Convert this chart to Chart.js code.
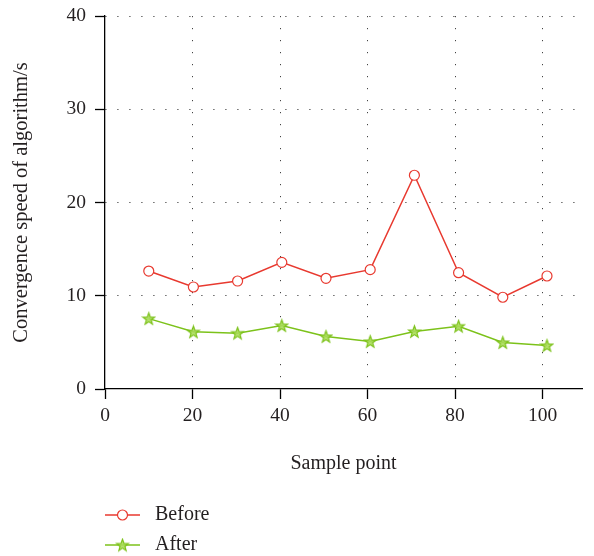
<!DOCTYPE html>
<html>
<head>
<meta charset="utf-8">
<script src="https://cdn.jsdelivr.net/npm/chart.js@4/dist/chart.umd.min.js"></script>
<style>
  html, body { margin: 0; padding: 0; background: #fff; }
  #wrap { width: 594px; height: 556px; }
</style>
</head>
<body>
<div id="wrap"><canvas id="c" width="594" height="556"></canvas></div>
<script>
const samplePoints = [10, 20.2, 30.3, 40.4, 50.5, 60.6, 70.7, 80.8, 90.9, 101];
const beforeValues = [12.65, 10.94, 11.58, 13.58, 11.87, 12.8, 22.92, 12.47, 9.84, 12.12];
const afterValues  = [7.55, 6.13, 5.99, 6.8, 5.63, 5.09, 6.16, 6.73, 4.98, 4.66];
const seriesNames = ['Before', 'After'];
const xTitle = 'Sample point';
const yTitle = 'Convergence speed of algorithm/s';

const RED = '#e8392f';
const GREEN = '#7cc21a';
const FONT = '"Liberation Serif", "Times New Roman", serif';
const TEXT = '#231f20';

function makeStar(size, stroke, fill) {
  const c = document.createElement('canvas');
  c.width = size; c.height = size;
  const ctx = c.getContext('2d');
  const cx = size / 2, cy = size / 2 + 0.5;
  const R = size / 2 - 1.3, r = R * 0.42;
  ctx.beginPath();
  for (let i = 0; i < 10; i++) {
    const rad = i % 2 === 0 ? R : r;
    const a = -Math.PI / 2 + i * Math.PI / 5;
    const px = cx + rad * Math.cos(a), py = cy + rad * Math.sin(a);
    if (i === 0) ctx.moveTo(px, py); else ctx.lineTo(px, py);
  }
  ctx.closePath();
  ctx.fillStyle = fill;
  ctx.fill();
  ctx.lineWidth = 1.2;
  ctx.strokeStyle = stroke;
  ctx.stroke();
  return c;
}
const starImg = makeStar(15, GREEN, 'rgba(170,220,90,0.9)');

const toXY = (xs, ys) => xs.map((x, i) => ({x: x, y: ys[i]}));

const legendPlugin = {
  id: 'customLegend',
  afterDraw(chart) {
    const ctx = chart.ctx;
    const left = chart.chartArea.left;
    const rows = [chart.height - 41, chart.height - 11];
    chart.data.datasets.forEach((ds, i) => {
      const y = rows[i];
      ctx.save();
      ctx.strokeStyle = ds.borderColor;
      ctx.lineWidth = 1.5;
      ctx.beginPath();
      ctx.moveTo(left, y);
      ctx.lineTo(left + 35, y);
      ctx.stroke();
      const mx = left + 17.5;
      if (i === 0) {
        ctx.beginPath();
        ctx.arc(mx, y, 5, 0, Math.PI * 2);
        ctx.fillStyle = '#fff';
        ctx.fill();
        ctx.lineWidth = 1.2;
        ctx.strokeStyle = ds.borderColor;
        ctx.stroke();
      } else {
        ctx.drawImage(starImg, mx - starImg.width / 2, y - starImg.height / 2);
      }
      ctx.fillStyle = TEXT;
      ctx.font = '20px ' + FONT;
      ctx.textBaseline = 'middle';
      ctx.textAlign = 'left';
      ctx.fillText(ds.label, left + 50, y);
      ctx.restore();
    });
  }
};

new Chart(document.getElementById('c'), {
  type: 'line',
  data: {
    datasets: [
      {
        label: seriesNames[0],
        data: toXY(samplePoints, beforeValues),
        borderColor: RED,
        backgroundColor: '#fff',
        borderWidth: 1.5,
        pointStyle: 'circle',
        pointRadius: 5,
        pointBorderWidth: 1.2,
        pointBackgroundColor: '#fff',
        pointBorderColor: RED,
        tension: 0
      },
      {
        label: seriesNames[1],
        data: toXY(samplePoints, afterValues),
        borderColor: GREEN,
        backgroundColor: GREEN,
        borderWidth: 1.5,
        pointStyle: starImg,
        pointRadius: 7,
        tension: 0
      }
    ]
  },
  options: {
    responsive: false,
    animation: false,
    devicePixelRatio: 1,
    layout: { padding: { left: 0, right: 12, top: 16, bottom: 80 } },
    plugins: {
      legend: { display: false },
      tooltip: { enabled: false }
    },
    scales: {
      x: {
        type: 'linear',
        min: 0,
        max: 109,
        ticks: {
          stepSize: 20,
          includeBounds: false,
          color: TEXT,
          font: { family: FONT, size: 19.5 },
          padding: 5,
          maxRotation: 0
        },
        grid: {
          color: (c) => (c.tick && c.tick.value === 0) ? 'rgba(0,0,0,0)' : '#444',
          lineWidth: 1,
          tickColor: '#000',
          tickLength: 10,
          tickWidth: 1.3,
          tickBorderDash: []
        },
        border: { display: true, color: '#000', width: 1.3, dash: [1.2, 10.8] },
        title: {
          display: true,
          text: xTitle,
          color: TEXT,
          font: { family: FONT, size: 20 },
          padding: { top: 0, bottom: 0 }
        },
        afterFit(scale) { scale.height = 87; scale.paddingLeft = 0; scale.paddingRight = 0; }
      },
      y: {
        type: 'linear',
        min: 0,
        max: 40,
        ticks: {
          stepSize: 10,
          color: TEXT,
          font: { family: FONT, size: 19.5 },
          padding: 9
        },
        grid: {
          color: (c) => (c.tick && c.tick.value === 0) ? 'rgba(0,0,0,0)' : '#444',
          lineWidth: 1,
          tickColor: '#000',
          tickLength: 10,
          tickWidth: 1.3,
          tickBorderDash: []
        },
        border: { display: true, color: '#000', width: 1.3, dash: [1.2, 10.8] },
        title: {
          display: true,
          text: yTitle,
          color: TEXT,
          font: { family: FONT, size: 20.5 },
          padding: { top: 9, bottom: 0 }
        },
        afterFit(scale) { scale.width = 105; scale.paddingTop = 0; scale.paddingBottom = 0; }
      }
    }
  },
  plugins: [legendPlugin]
});
</script>
</body>
</html>
